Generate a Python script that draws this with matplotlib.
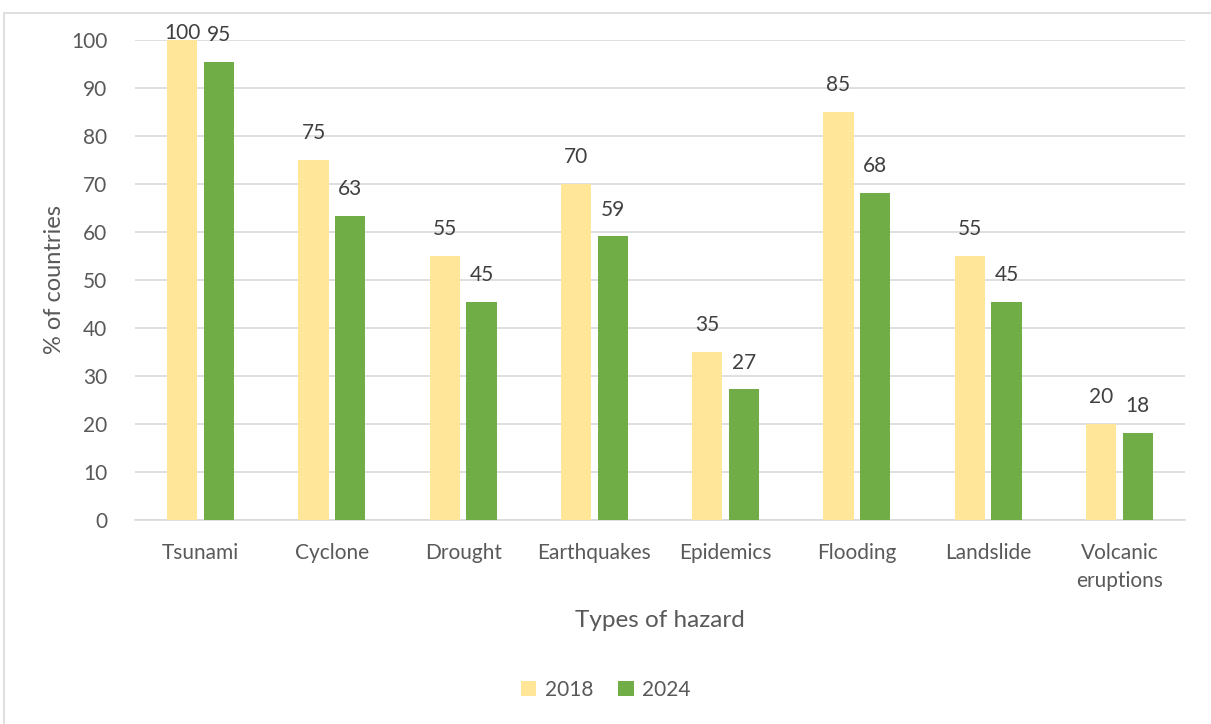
import numpy as np
import matplotlib.pyplot as plt
from matplotlib.patches import Rectangle

# data
hazards = ["Tsunami", "Cyclone", "Drought", "Earthquakes", "Epidemics",
           "Flooding", "Landslide", "Volcanic\neruptions"]
pct_2018 = [100, 75, 55, 70, 35, 85, 55, 20]
pct_2024 = [95.45, 63.4, 45.45, 59.09, 27.27, 68.18, 45.45, 18.18]

COL_2018 = "#FFE699"
COL_2024 = "#70AD47"
TEXT = "#595959"
GRID = "#D9D9D9"

plt.rcParams['font.family'] = ['Lato', 'DejaVu Sans']

fig = plt.figure(figsize=(12.11, 7.24), dpi=100)
ax = fig.add_axes([0.1115, 0.282, 0.867, 0.663])

x = np.arange(len(hazards))
w = 0.23
off = 0.14
b1 = ax.bar(x - off, pct_2018, w, color=COL_2018, label="2018", zorder=3)
b2 = ax.bar(x + off, pct_2024, w, color=COL_2024, label="2024", zorder=3)

# value labels above the bars, kept inside the plot near the top
for bars, vals in ((b1, pct_2018), (b2, pct_2024)):
    for rect, v in zip(bars, vals):
        ax.text(rect.get_x() + rect.get_width() / 2, min(v + 5.5, 101.5),
                f"{v:.0f}", ha="center", va="center", fontsize=15,
                color="#404040", clip_on=False)

ax.set_xlim(-0.5, len(hazards) - 0.5)
ax.set_ylim(0, 100)
ax.set_yticks(range(0, 101, 10))
ax.yaxis.grid(True, color=GRID, linewidth=1.2, zorder=0)
ax.set_axisbelow(True)
for s in ["top", "right", "left"]:
    ax.spines[s].set_visible(False)
ax.spines["bottom"].set_color(GRID)
ax.spines["bottom"].set_linewidth(1.2)
ax.tick_params(axis="both", length=0, labelsize=15, labelcolor=TEXT)
ax.tick_params(axis="x", pad=17)
ax.tick_params(axis="y", pad=20)
ax.set_xticks(x)
ax.set_xticklabels(hazards, linespacing=1.45)

ax.set_ylabel("% of countries", fontsize=17, color=TEXT, labelpad=4)
ax.set_xlabel("Types of hazard", fontsize=17.5, color=TEXT, labelpad=14)

fig.legend(handles=[b1, b2], loc="center", bbox_to_anchor=(0.5, 0.047),
           ncol=2, frameon=False, fontsize=15, labelcolor=TEXT,
           handlelength=0.75, handleheight=0.75, handletextpad=0.4,
           columnspacing=1.2)

# chart border
fig.add_artist(Rectangle((4 / 1211, -0.01), 1.1, 0.996 - 10 / 724 + 0.01,
                         transform=fig.transFigure, fill=False,
                         edgecolor=GRID, linewidth=1.2))

fig.savefig("out.png", dpi=100)
